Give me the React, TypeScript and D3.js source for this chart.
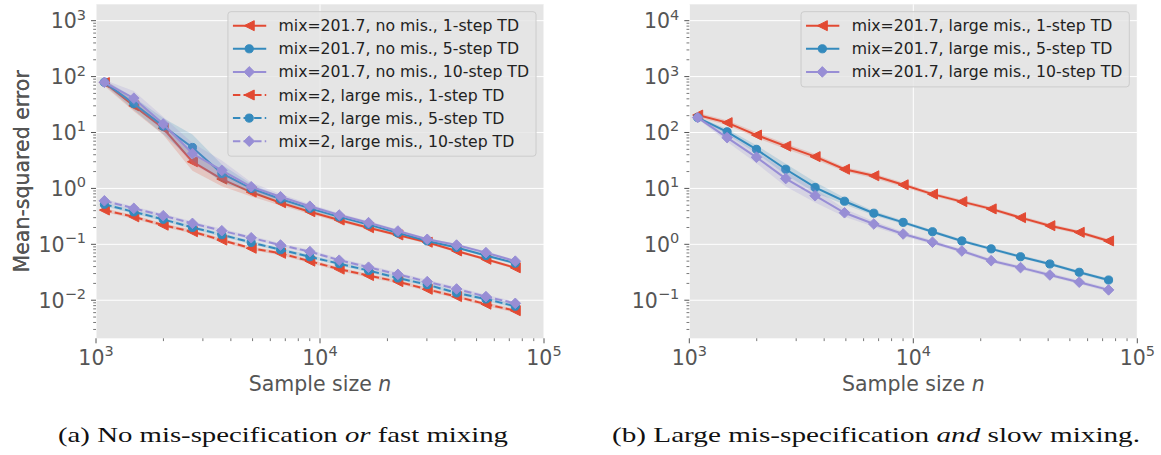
import React, { useEffect, useRef } from 'react';
import * as d3 from 'd3';

// sample sizes n (x axis), shared by all series
const sampleSizes = [1090, 1475, 1995, 2695, 3645, 4930, 6665, 9010, 12180, 16470, 22270, 30110, 40710, 55050, 74430];

// panel (a): mix=201.7, no mis-specification
const noMis1 = [78, 30, 11.9, 3.0, 1.47, 0.86, 0.555, 0.383, 0.272, 0.198, 0.147, 0.109, 0.076, 0.054, 0.038];
const noMis5 = [79, 33, 13, 5.4, 1.85, 1.0, 0.645, 0.44, 0.31, 0.225, 0.16, 0.115, 0.088, 0.063, 0.046];
const noMis10 = [79, 41, 14.2, 4.2, 2.1, 1.07, 0.71, 0.48, 0.334, 0.244, 0.173, 0.123, 0.097, 0.071, 0.05];
// panel (a): mix=2, large mis-specification
const fastMix1 = [0.41, 0.31, 0.22, 0.168, 0.119, 0.085, 0.069, 0.05, 0.036, 0.0276, 0.0215, 0.0157, 0.0116, 0.0085, 0.0065];
const fastMix5 = [0.52, 0.38, 0.28, 0.2, 0.148, 0.108, 0.08, 0.06, 0.045, 0.034, 0.025, 0.019, 0.0135, 0.0105, 0.0078];
const fastMix10 = [0.6, 0.44, 0.325, 0.237, 0.175, 0.131, 0.097, 0.074, 0.052, 0.039, 0.029, 0.0215, 0.0159, 0.0116, 0.0088];
// panel (b): mix=201.7, large mis-specification
const slow1 = [205, 150, 90, 57, 37, 22, 16.8, 11.6, 7.9, 5.8, 4.3, 3.0, 2.15, 1.64, 1.15];
const slow5 = [185, 103, 50, 22, 10.4, 5.9, 3.6, 2.47, 1.68, 1.15, 0.83, 0.6, 0.445, 0.316, 0.23];
const slow10 = [185, 81, 36, 15, 7.4, 3.67, 2.31, 1.53, 1.09, 0.76, 0.51, 0.383, 0.283, 0.21, 0.153];

// relative half-width of the shaded bands
const noMis1Band = [0.15, 0.25, 0.3, 0.45, 0.35, 0.2, 0.12, 0.1, 0.08, 0.07, 0.06, 0.06, 0.06, 0.06, 0.06];
const noMis5Band = [0.1, 0.3, 0.4, 0.7, 0.45, 0.2, 0.12, 0.1, 0.08, 0.07, 0.06, 0.06, 0.06, 0.06, 0.06];
const noMis10Band = [0.1, 0.35, 0.35, 0.55, 0.5, 0.2, 0.12, 0.1, 0.08, 0.07, 0.06, 0.06, 0.06, 0.06, 0.06];
const fastBand = [0.08, 0.08, 0.08, 0.08, 0.08, 0.08, 0.08, 0.08, 0.08, 0.08, 0.08, 0.08, 0.08, 0.08, 0.08];
const slow1Band = [0.1, 0.1, 0.12, 0.12, 0.12, 0.1, 0.1, 0.1, 0.08, 0.08, 0.08, 0.08, 0.08, 0.08, 0.08];
const slow5Band = [0.05, 0.12, 0.18, 0.25, 0.25, 0.15, 0.1, 0.08, 0.07, 0.07, 0.07, 0.07, 0.07, 0.07, 0.07];
const slow10Band = [0.05, 0.18, 0.28, 0.38, 0.32, 0.18, 0.12, 0.1, 0.08, 0.08, 0.08, 0.08, 0.08, 0.08, 0.08];

const labelsA = [
  'mix=201.7, no mis., 1-step TD',
  'mix=201.7, no mis., 5-step TD',
  'mix=201.7, no mis., 10-step TD',
  'mix=2, large mis., 1-step TD',
  'mix=2, large mis., 5-step TD',
  'mix=2, large mis., 10-step TD',
];
const labelsB = [
  'mix=201.7, large mis., 1-step TD',
  'mix=201.7, large mis., 5-step TD',
  'mix=201.7, large mis., 10-step TD',
];

const RED = '#E24A33';
const BLUE = '#348ABD';
const PURPLE = '#988ED5';

type Series = { label: string; values: number[]; band: number[]; color: string; marker: string; dashed: boolean };

const seriesA: Series[] = [
  { label: labelsA[0], values: noMis1, band: noMis1Band, color: RED, marker: 'tri', dashed: false },
  { label: labelsA[1], values: noMis5, band: noMis5Band, color: BLUE, marker: 'circle', dashed: false },
  { label: labelsA[2], values: noMis10, band: noMis10Band, color: PURPLE, marker: 'diamond', dashed: false },
  { label: labelsA[3], values: fastMix1, band: fastBand, color: RED, marker: 'tri', dashed: true },
  { label: labelsA[4], values: fastMix5, band: fastBand, color: BLUE, marker: 'circle', dashed: true },
  { label: labelsA[5], values: fastMix10, band: fastBand, color: PURPLE, marker: 'diamond', dashed: true },
];
const seriesB: Series[] = [
  { label: labelsB[0], values: slow1, band: slow1Band, color: RED, marker: 'tri', dashed: false },
  { label: labelsB[1], values: slow5, band: slow5Band, color: BLUE, marker: 'circle', dashed: false },
  { label: labelsB[2], values: slow10, band: slow10Band, color: PURPLE, marker: 'diamond', dashed: false },
];

const markerPath = (m: string) => {
  if (m === 'tri') return 'M-5,0L5,-5L5,5Z';
  if (m === 'diamond') return 'M0,-5.3L5.3,0L0,5.3L-5.3,0Z';
  return d3.symbol(d3.symbolCircle, 52)() as string;
};

const SUP: Record<string, string> = { '-': '\u2212' };

function drawPanel(root: any, left: number, yDomain: [number, number], series: Series[]) {
  const top = 4.3;
  const width = 448;
  const height = 334;
  const g = root.append('g').attr('transform', `translate(${left},${top})`);

  const x = d3.scaleLog().domain([1000, 100000]).range([0, width]);
  const y = d3.scaleLog().domain(yDomain).range([height, 0]);

  g.append('rect').attr('width', width).attr('height', height).attr('fill', '#E5E5E5');

  const lo = Math.ceil(Math.log10(yDomain[0]));
  const hi = Math.floor(Math.log10(yDomain[1]));
  const yMajors = d3.range(lo, hi + 1).map((k) => Math.pow(10, k));
  const xMajors = [1000, 10000, 100000];

  // grid
  g.selectAll('.gy').data(yMajors).enter().append('line')
    .attr('x1', 0).attr('x2', width)
    .attr('y1', (d: number) => y(d)).attr('y2', (d: number) => y(d))
    .attr('stroke', '#fff').attr('stroke-width', 1);
  g.selectAll('.gx').data(xMajors).enter().append('line')
    .attr('y1', 0).attr('y2', height)
    .attr('x1', (d: number) => x(d)).attr('x2', (d: number) => x(d))
    .attr('stroke', '#fff').attr('stroke-width', 1);

  // ticks
  const yMinors: number[] = [];
  for (let k = lo - 1; k <= hi; k++) {
    for (let m = 2; m < 10; m++) {
      const v = m * Math.pow(10, k);
      if (v >= yDomain[0] && v <= yDomain[1]) yMinors.push(v);
    }
  }
  const xMinors: number[] = [];
  for (let k = 3; k < 5; k++) for (let m = 2; m < 10; m++) xMinors.push(m * Math.pow(10, k));

  const tickColor = '#555';
  g.selectAll('.ty').data(yMajors).enter().append('line')
    .attr('x1', -5).attr('x2', 0).attr('y1', (d: number) => y(d)).attr('y2', (d: number) => y(d))
    .attr('stroke', tickColor).attr('stroke-width', 1);
  g.selectAll('.tym').data(yMinors).enter().append('line')
    .attr('x1', -2.8).attr('x2', 0).attr('y1', (d: number) => y(d)).attr('y2', (d: number) => y(d))
    .attr('stroke', tickColor).attr('stroke-width', 0.8);
  g.selectAll('.tx').data(xMajors).enter().append('line')
    .attr('y1', height).attr('y2', height + 5).attr('x1', (d: number) => x(d)).attr('x2', (d: number) => x(d))
    .attr('stroke', tickColor).attr('stroke-width', 1);
  g.selectAll('.txm').data(xMinors).enter().append('line')
    .attr('y1', height).attr('y2', height + 2.8).attr('x1', (d: number) => x(d)).attr('x2', (d: number) => x(d))
    .attr('stroke', tickColor).attr('stroke-width', 0.8);

  const expText = (d: number) => String(Math.round(Math.log10(d))).replace('-', SUP['-']);

  const yl = g.selectAll('.yl').data(yMajors).enter().append('text')
    .attr('x', -10).attr('y', (d: number) => y(d) + 7.5)
    .attr('text-anchor', 'end').attr('fill', tickColor)
    .style('font-family', 'DejaVu Sans').style('font-size', '20.5px');
  yl.append('tspan').text('10');
  yl.append('tspan').attr('dy', -8.5).style('font-size', '14.5px').text(expText);

  const xl = g.selectAll('.xl').data(xMajors).enter().append('text')
    .attr('x', (d: number) => x(d)).attr('y', height + 26.7)
    .attr('text-anchor', 'middle').attr('fill', tickColor)
    .style('font-family', 'DejaVu Sans').style('font-size', '20.5px');
  xl.append('tspan').text('10');
  xl.append('tspan').attr('dy', -8.5).style('font-size', '14.5px').text(expText);

  // axis labels
  const xlab = g.append('text').attr('x', width / 2).attr('y', height + 53)
    .attr('text-anchor', 'middle').attr('fill', tickColor)
    .style('font-family', 'DejaVu Sans').style('font-size', '20.5px');
  xlab.append('tspan').text('Sample size ');
  xlab.append('tspan').style('font-style', 'italic').text('n');

  g.append('text').attr('transform', `translate(${22 - left},${height / 2}) rotate(-90)`)
    .attr('dy', '0.35em').attr('text-anchor', 'middle').attr('fill', tickColor)
    .style('font-family', 'DejaVu Sans').style('font-size', '20.5px')
    .text('Mean-squared error');

  // bands, lines, markers
  const plot = g.append('g');
  const area = d3.area<number>()
    .x((_, i) => x(sampleSizes[i]))
    .y0((d, i) => y(d / (1 + series[0].band[i])))
    .y1((d) => y(d));
  const line = d3.line<number>().x((_, i) => x(sampleSizes[i])).y((d) => y(d));

  series.forEach((s) => {
    const band = d3.area<number>()
      .x((_, i) => x(sampleSizes[i]))
      .y0((d, i) => y(d / (1 + s.band[i])))
      .y1((d, i) => y(d * (1 + s.band[i])));
    plot.append('path').attr('d', band(s.values)).attr('fill', s.color).attr('opacity', 0.2);
    plot.append('path').attr('d', line(s.values)).attr('fill', 'none')
      .attr('stroke', s.color).attr('stroke-width', 2)
      .attr('stroke-dasharray', s.dashed ? '7.4,3.2' : null);
    plot.selectAll(null).data(s.values).enter().append('path')
      .attr('d', markerPath(s.marker))
      .attr('transform', (d: number, i: number) => `translate(${x(sampleSizes[i])},${y(d)})`)
      .attr('fill', s.color).attr('stroke', s.color).attr('stroke-width', 1);
  });
  void area;

  // legend
  const leg = g.append('g');
  const box = leg.append('rect').attr('y', 11.7 - top).attr('rx', 3)
    .attr('fill', '#E5E5E5').attr('fill-opacity', 0.8)
    .attr('stroke', '#CCCCCC').attr('stroke-width', 1);
  const rowH = 23.1;
  const firstRow = 25.7 - top;
  const texts: any[] = [];
  series.forEach((s, i) => {
    const cy = firstRow + i * rowH;
    const row = leg.append('g');
    row.append('line').attr('y1', cy).attr('y2', cy)
      .attr('stroke', s.color).attr('stroke-width', 2)
      .attr('stroke-dasharray', s.dashed ? '7.4,3.2' : null)
      .attr('class', 'hline');
    row.append('path').attr('d', markerPath(s.marker))
      .attr('class', 'hmark')
      .attr('fill', s.color).attr('stroke', s.color).attr('stroke-width', 1)
      .attr('data-cy', cy);
    const t = row.append('text').attr('y', cy + 5.6).attr('fill', '#222')
      .style('font-family', 'DejaVu Sans').style('font-size', '15.7px').text(s.label);
    texts.push(t);
  });
  let maxW = 0;
  texts.forEach((t) => { maxW = Math.max(maxW, (t.node() as SVGTextElement).getComputedTextLength()); });
  const boxW = 50.6 + maxW + 7;
  const boxX = width - 8 - boxW;
  box.attr('x', boxX).attr('width', boxW).attr('height', firstRow - (11.7 - top) + (series.length - 1) * rowH + 15);
  texts.forEach((t) => t.attr('x', boxX + 50.6));
  leg.selectAll('.hline').attr('x1', boxX + 5).attr('x2', boxX + 38.3);
  leg.selectAll('.hmark').attr('transform', function (this: any) {
    return `translate(${boxX + 21.3},${this.getAttribute('data-cy')})`;
  });
}

export default function App() {
  const ref = useRef<SVGSVGElement>(null);

  useEffect(() => {
    const svg = d3.select(ref.current);
    svg.selectAll('*').remove();
    const root = svg.append('g');
    drawPanel(root, 96, [Math.pow(10, -2.681), Math.pow(10, 3.293)], seriesA);
    drawPanel(root, 689.3, [Math.pow(10, -1.681), Math.pow(10, 4.293)], seriesB);

    const cap = (cx: number, w: number, parts: [string, boolean][]) => {
      const t = root.append('text').attr('x', cx).attr('y', 442)
        .attr('text-anchor', 'middle').attr('fill', '#111')
        .attr('textLength', w).attr('lengthAdjust', 'spacingAndGlyphs')
        .style('font-family', 'Liberation Serif').style('font-size', '21px');
      parts.forEach(([s, it]) => t.append('tspan').style('font-style', it ? 'italic' : 'normal').text(s));
    };
    cap(283, 450, [['(a) No mis-specification ', false], ['or', true], [' fast mixing', false]]);
    cap(876, 528, [['(b) Large mis-specification ', false], ['and', true], [' slow mixing.', false]]);
  }, []);

  return (
    <svg ref={ref} width={1161} height={455}
      style={{ position: 'absolute', left: 0, top: 0, background: '#fff' }} />
  );
}
